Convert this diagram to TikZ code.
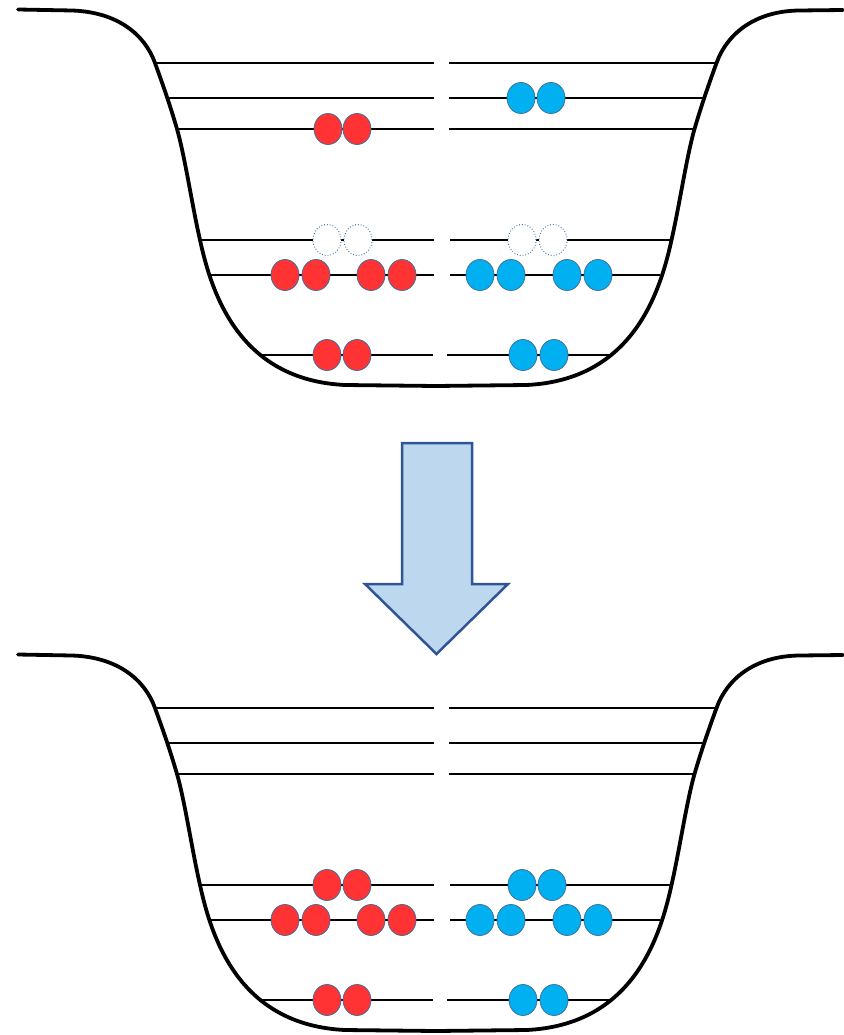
\documentclass[tikz,border=0pt]{standalone}
\usetikzlibrary{shapes.geometric}
\definecolor{ballred}{RGB}{255,51,51}
\definecolor{ballblue}{RGB}{0,176,240}
\definecolor{ballrim}{RGB}{65,113,156}
\definecolor{arrowfill}{RGB}{189,215,238}
\definecolor{arrowrim}{RGB}{47,85,151}
\tikzset{
  wall/.style={line width=3.8pt, line join=round, line cap=round},
  level/.style={line width=2.2pt},
  ball/.style={ellipse, draw=ballrim, line width=0.8pt, minimum width=28pt, minimum height=31pt, inner sep=0pt},
  redball/.style={ball, fill=ballred},
  blueball/.style={ball, fill=ballblue},
  emptyball/.style={ball, fill=white, dotted, line width=1pt},
  bigarrow/.style={draw=arrowrim, fill=arrowfill, line width=2.5pt, line join=miter}
}
% potential well outline with its energy levels (split in a left and a right half)
\newcommand\wellwithlevels{%
  \draw[wall] (18,9.5) -- (72,10.5)
    .. controls (118,12) and (145,35) .. (155,63)
    .. controls (163,85) and (170,105) .. (177,129)
    .. controls (185,157) and (192,205) .. (200,240)
    .. controls (212,295) and (240,380) .. (345,385)
    -- (435.75,386) -- (526.5,385)
    .. controls (631.5,380) and (659.5,295) .. (671.5,240)
    .. controls (679.5,205) and (686.5,157) .. (694.5,129)
    .. controls (701.5,105) and (708.5,85) .. (716.5,63)
    .. controls (726.5,35) and (753.5,11) .. (799.5,10.5)
    -- (843,10);
  \draw[level] (155,63) -- (434,63);   \draw[level] (449,63) -- (717,63);
  \draw[level] (168,98) -- (434,98);   \draw[level] (449,98) -- (703,98);
  \draw[level] (177,129) -- (434,129); \draw[level] (449,129) -- (695,129);
  \draw[level] (200,240) -- (434,240); \draw[level] (450,240) -- (671,240);
  \draw[level] (211,275) -- (434,275); \draw[level] (450,275) -- (660,275);
  \draw[level] (262,355) -- (433,355); \draw[level] (447,355) -- (610,355);
}
\begin{document}
\begin{tikzpicture}[x=1pt,y=-1pt]
  \useasboundingbox (0,0) rectangle (843,1035);

  % ---------- upper well ----------
  \wellwithlevels
  \node[redball]  (u3a) at (328,129) {};
  \node[redball]  (u3b) at (357,129) {};
  \node[blueball] (u2a) at (521,98) {};
  \node[blueball] (u2b) at (551,98) {};
  \node[emptyball] (u4a) at (327,240) {};
  \node[emptyball] (u4b) at (358,240) {};
  \node[emptyball] (u4c) at (522,240) {};
  \node[emptyball] (u4d) at (553,240) {};
  \node[redball]  (u5a) at (285,275) {};
  \node[redball]  (u5b) at (316,275) {};
  \node[redball]  (u5c) at (371,275) {};
  \node[redball]  (u5d) at (402,275) {};
  \node[blueball] (u5e) at (480,275) {};
  \node[blueball] (u5f) at (511,275) {};
  \node[blueball] (u5g) at (567,275) {};
  \node[blueball] (u5h) at (598,275) {};
  \node[redball]  (u6a) at (327,355) {};
  \node[redball]  (u6b) at (357,355) {};
  \node[blueball] (u6c) at (523,355) {};
  \node[blueball] (u6d) at (554,355) {};

  % ---------- transition arrow ----------
  \draw[bigarrow] (402,443) -- (472,443) -- (472,584) -- (508,584)
    -- (436.5,654) -- (365,584) -- (402,584) -- cycle;

  % ---------- lower well ----------
  \begin{scope}[shift={(0,645)}]
    \wellwithlevels
    \node[redball]  (l4a) at (327,240) {};
    \node[redball]  (l4b) at (357,240) {};
    \node[blueball] (l4c) at (522,240) {};
    \node[blueball] (l4d) at (552,240) {};
    \node[redball]  (l5a) at (285,275) {};
    \node[redball]  (l5b) at (316,275) {};
    \node[redball]  (l5c) at (371,275) {};
    \node[redball]  (l5d) at (402,275) {};
    \node[blueball] (l5e) at (480,275) {};
    \node[blueball] (l5f) at (511,275) {};
    \node[blueball] (l5g) at (567,275) {};
    \node[blueball] (l5h) at (598,275) {};
    \node[redball]  (l6a) at (327,355) {};
    \node[redball]  (l6b) at (357,355) {};
    \node[blueball] (l6c) at (523,355) {};
    \node[blueball] (l6d) at (554,355) {};
  \end{scope}
\end{tikzpicture}
\end{document}
